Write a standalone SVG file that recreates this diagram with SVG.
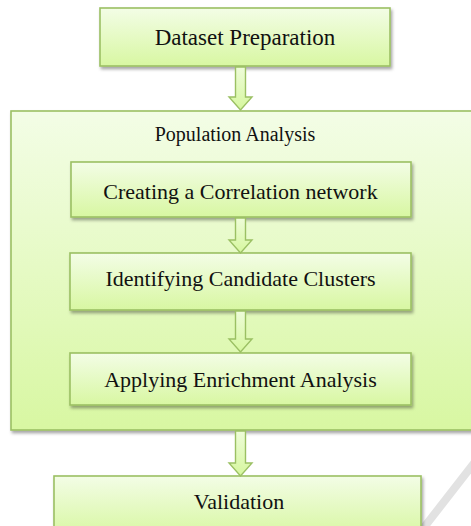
<svg xmlns="http://www.w3.org/2000/svg" width="471" height="526" viewBox="0 0 471 526">
<defs>
<linearGradient id="g" x1="0" y1="0" x2="0" y2="1">
<stop offset="0" stop-color="#f3fde6"/>
<stop offset="1" stop-color="#d8f7a2"/>
</linearGradient>
<linearGradient id="ga" x1="0" y1="0" x2="0" y2="1">
<stop offset="0" stop-color="#eefcd9"/>
<stop offset="1" stop-color="#d6f79e"/>
</linearGradient>
<filter id="sh" x="-10%" y="-10%" width="130%" height="140%">
<feDropShadow dx="1.5" dy="2.5" stdDeviation="1.6" flood-color="#000" flood-opacity="0.35"/>
</filter>
</defs>
<style>
.box{fill:url(#g);stroke:#9bc063;stroke-width:1.6;filter:url(#sh)}
.arr{fill:url(#ga);stroke:#9bc063;stroke-width:1.4;stroke-linejoin:miter}
.t{font-family:"Liberation Serif","Times New Roman",serif;fill:#111;text-anchor:middle;font-size:22px}
</style>
<line x1="478" y1="458" x2="422" y2="530" stroke="#e2e2e2" stroke-width="8"/>
<g id="dataset">
<rect class="box" x="100" y="8" width="290" height="58"/>
<text class="t" x="245" y="45" style="font-size:23px">Dataset Preparation</text>
</g>
<g id="population">
<rect class="box" x="11" y="111" width="475" height="319"/>
<text class="t" x="235" y="141" style="font-size:20px">Population Analysis</text>
</g>
<g id="creating">
<rect class="box" x="71" y="162" width="340" height="55"/>
<text class="t" x="240.5" y="199">Creating a Correlation network</text>
</g>
<g id="identifying">
<rect class="box" x="70" y="253" width="341" height="57"/>
<text class="t" x="240.5" y="286">Identifying Candidate Clusters</text>
</g>
<g id="applying">
<rect class="box" x="70" y="353" width="341" height="52"/>
<text class="t" x="240.5" y="387">Applying Enrichment Analysis</text>
</g>
<g id="validation">
<rect class="box" x="54" y="476" width="367" height="60"/>
<text class="t" x="239" y="509">Validation</text>
</g>
<g id="connectors">
<path class="arr" d="M235.5 67 H245.5 V97 H252 L240.5 110 L229 97 H235.5 Z"/>
<path class="arr" d="M235.5 218 H245.5 V240 H252 L240.5 253 L229 240 H235.5 Z"/>
<path class="arr" d="M235.5 311 H245.5 V339 H252 L240.5 352 L229 339 H235.5 Z"/>
<path class="arr" d="M235.5 431 H245.5 V463 H252 L240.5 476 L229 463 H235.5 Z"/>
</g>
</svg>
